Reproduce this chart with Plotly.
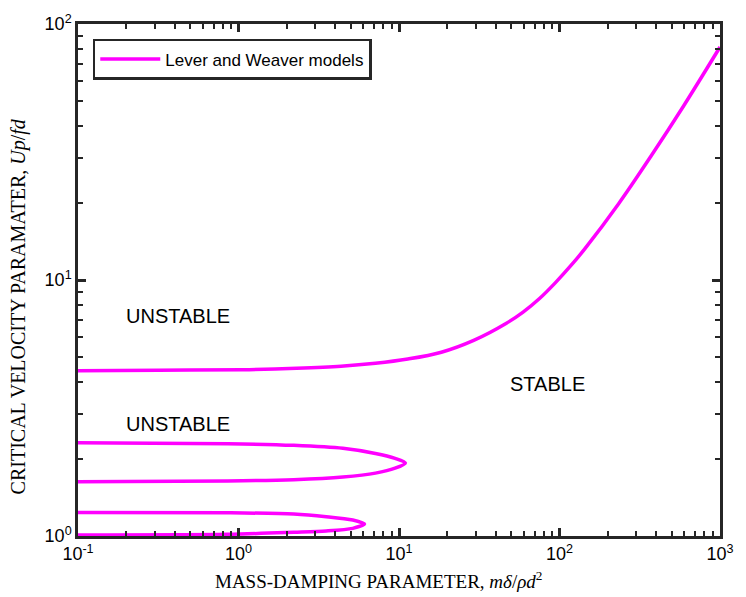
import math
import plotly.graph_objects as go

# Main stability boundary (mass-damping vs critical velocity)
main_x = [0.1, 0.318, 1.058, 2.30, 4.35, 7.13, 11.35, 18.36, 29.2, 46.7, 59.3, 75.4,
          94.4, 120.2, 144.5, 233.6, 372, 593, 1000]
main_y = [4.425, 4.442, 4.465, 4.524, 4.606, 4.729, 4.913, 5.223, 5.810, 6.779, 7.494, 8.488,
          9.770, 11.55, 13.29, 19.87, 30.51, 47.84, 81.3]

# Upper instability loop
loop1_x = [0.1, 0.856, 2.21, 4.47, 7.13, 9.45, 10.96, 9.45, 7.13, 4.47, 2.21, 0.856, 0.1]
loop1_y = [2.316, 2.295, 2.26, 2.20, 2.10, 2.01, 1.93, 1.84, 1.76, 1.70, 1.66, 1.64, 1.63]

# Lower instability loop
loop2_x = [0.1, 0.856, 2.21, 3.52, 5.15, 6.10, 5.15, 3.52, 2.21, 0.856, 0.1]
loop2_y = [1.236, 1.232, 1.218, 1.189, 1.154, 1.114, 1.071, 1.046, 1.034, 1.015, 1.009]

# Region labels
region_text = ["UNSTABLE", "UNSTABLE", "STABLE"]
region_x = [0.42, 0.42, 84.4]
region_y = [7.24, 2.75, 3.94]

x_tickvals = [0.1, 1, 10, 100, 1000]
x_ticktext = ["10<sup>-1</sup>", "10<sup>0</sup>", "10<sup>1</sup>", "10<sup>2</sup>", "10<sup>3</sup>"]
y_tickvals = [1, 10, 100]
y_ticktext = ["10<sup>0</sup>", "10<sup>1</sup>", "10<sup>2</sup>"]

x_minor = [m * 10 ** e for e in range(-1, 3) for m in range(2, 10)]
y_minor = [m * 10 ** e for e in range(0, 2) for m in range(2, 10)]

magenta = "#ff00ff"
axis_col = "#262626"
sans = "Liberation Sans, Arial, sans-serif"
serif = "Liberation Serif, DejaVu Serif, serif"

fig = go.Figure()
curves = [(main_x, main_y, 1.0), (loop1_x, loop1_y, 0.8), (loop2_x, loop2_y, 0.8)]
for i, (xs, ys, sm) in enumerate(curves):
    fig.add_trace(go.Scatter(
        x=xs, y=ys, mode="lines",
        line=dict(color=magenta, width=3.5, shape="spline", smoothing=sm),
        name="Lever and Weaver models", legendgroup="lw",
        showlegend=(i == 0),
    ))

# annotation positions on log axes are given in log10 units
for t, xv, yv in zip(region_text, region_x, region_y):
    fig.add_annotation(x=math.log10(xv), y=math.log10(yv), xref="x", yref="y", text=t,
                       showarrow=False, font=dict(family=sans, size=20, color="black"))

# axis titles
fig.add_annotation(x=0.468, y=-0.085, xref="paper", yref="paper",
                   xanchor="center", yanchor="middle", showarrow=False,
                   text="MASS-DAMPING PARAMETER, <i>mδ</i>/<i>ρd</i><sup>2</sup>",
                   font=dict(family=serif, size=19, color="black"))
fig.add_annotation(x=-0.093, y=0.449, xref="paper", yref="paper",
                   xanchor="center", yanchor="middle", showarrow=False, textangle=-90,
                   text="CRITICAL VELOCITY PARAMATER, <i>Up</i>/<i>fd</i>",
                   font=dict(family=serif, size=20, color="black"))

axis_common = dict(
    type="log", showline=True, linecolor=axis_col, linewidth=2.5, mirror="ticks",
    ticks="inside", ticklen=8, tickwidth=2.5, tickcolor=axis_col,
    showgrid=False, zeroline=False,
    tickfont=dict(family=sans, size=18, color="black"),
)

fig.update_xaxes(
    range=[-1, 3], tickvals=x_tickvals, ticktext=x_ticktext,
    minor=dict(tickvals=x_minor, ticks="inside", ticklen=5, tickwidth=2, tickcolor=axis_col, showgrid=False),
    **axis_common,
)
fig.update_yaxes(
    range=[0, 2], tickvals=y_tickvals, ticktext=y_ticktext,
    minor=dict(tickvals=y_minor, ticks="inside", ticklen=5, tickwidth=2, tickcolor=axis_col, showgrid=False),
    **axis_common,
)

fig.update_layout(
    width=746, height=597,
    margin=dict(l=78, r=16, t=22, b=61),
    paper_bgcolor="white", plot_bgcolor="white",
    legend=dict(x=0.023, y=0.971, xanchor="left", yanchor="top",
                bordercolor=axis_col, borderwidth=2.5, bgcolor="white", itemwidth=60,
                font=dict(family=sans, size=17, color="black")),
)

fig.write_html("out.html", config={"displayModeBar": False})
